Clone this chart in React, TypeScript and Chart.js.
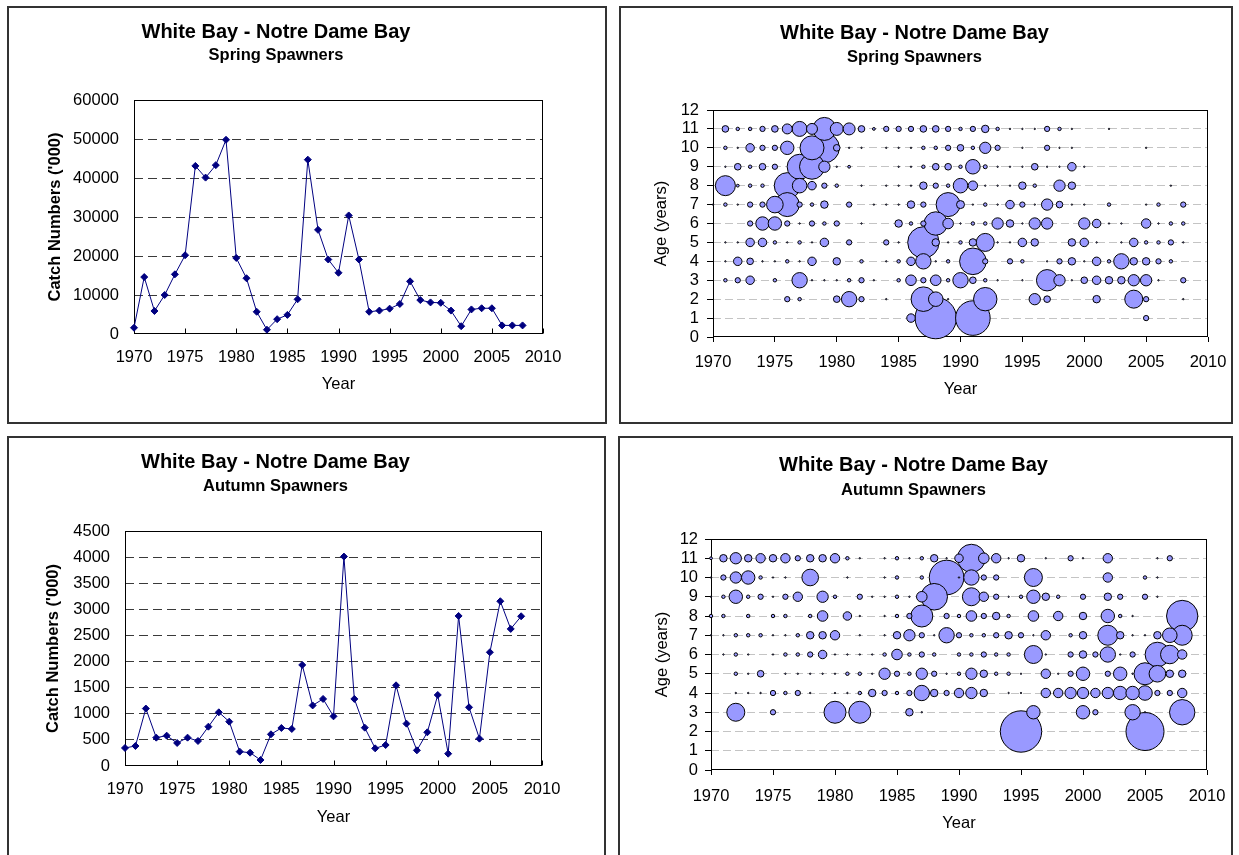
import React, { useEffect, useRef } from "react";
import { Chart, registerables } from "chart.js";

Chart.register(...registerables);
Chart.defaults.font.family = "'Liberation Sans', Arial, sans-serif";
Chart.defaults.color = "#000";

// ---------------- DATA ----------------
const TITLE = "White Bay - Notre Dame Bay";
const SUB_SPRING = "Spring Spawners";
const SUB_AUTUMN = "Autumn Spawners";
const Y_TITLE_LINE = "Catch Numbers ('000)";
const Y_TITLE_BUBBLE = "Age (years)";
const X_TITLE = "Year";

const YEARS = [
  1970, 1971, 1972, 1973, 1974, 1975, 1976, 1977, 1978, 1979,
  1980, 1981, 1982, 1983, 1984, 1985, 1986, 1987, 1988, 1989,
  1990, 1991, 1992, 1993, 1994, 1995, 1996, 1997, 1998, 1999,
  2000, 2001, 2002, 2003, 2004, 2005, 2006, 2007, 2008,
];

// catch numbers ('000)
const SPRING_CATCH = [
  1600, 14600, 5900, 10000, 15300, 20200, 43100, 40100, 43300, 49800,
  19500, 14300, 5700, 1100, 3800, 4900, 8900, 44700, 26700, 19100,
  15700, 30400, 19100, 5700, 6000, 6500, 7700, 13500, 8700, 8100,
  8000, 6000, 2000, 6300, 6600, 6600, 2200, 2200, 2200,
];
const AUTUMN_CATCH = [
  345, 383, 1100, 543, 581, 441, 543, 479, 753, 1028,
  849, 275, 255, 115, 607, 728, 709, 1935, 1160, 1284,
  951, 4010, 1284, 734, 338, 402, 1545, 811, 300, 645,
  1360, 236, 2873, 1124, 524, 2178, 3155, 2625, 2867,
];

// ages for the rows of the catch-at-age tables below
const AGES = [11, 10, 9, 8, 7, 6, 5, 4, 3, 2, 1];

// relative catch-at-age (bubble area units), rows = AGES, columns = YEARS
const SPRING_CAA = [
  [0,11,3,3,7,11,25,56,30,132, 42,36,11,2,7,7,7,11,11,7, 3,7,14,3,.5,.5,.5,7,3,.5, 0,0,.5,0,0,0,0,0,0],
  [0,3,.5,18,7,7,45,0,144,225, 11,.5,.5,0,.5,.5,.5,3,3,7, 11,3,32,7,0,.5,0,7,.5,.5, 0,0,0,0,0,.5,0,0,0],
  [0,.5,11,3,11,7,0,156,156,32, .5,2,0,0,0,.5,.5,3,11,11, 3,53,4,.5,.5,.5,11,.5,.5,18, .5,0,0,0,0,0,0,0,0],
  [0,100,2,3,3,0,169,53,18,7, 3,0,.5,0,.5,.5,.5,14,7,3, 53,22,.5,.5,.5,14,3,0,32,14, 0,0,0,0,0,0,0,.5,0],
  [.5,3,.5,7,7,69,144,7,3,14, 0,7,0,.5,.5,.5,14,7,0,144, 16,.5,3,.5,18,7,.5,32,11,.5, .5,0,3,0,0,.5,3,0,7],
  [0,0,0,7,45,45,7,.5,7,3, 7,0,.5,0,0,14,3,7,137,28, .5,3,3,32,14,.5,32,32,0,0, 32,18,.5,.5,0,22,.5,3,3],
  [0,.5,.5,18,18,3,.5,3,.5,18, 0,7,0,0,7,.5,0,246,14,.5, 3,14,81,.5,.5,18,14,0,0,14, 18,.5,0,.5,18,3,3,7,.5],
  [0,.5,18,11,.5,.5,3,.5,18,0, 14,0,3,0,.5,3,18,59,.5,3, 0,177,7,0,7,3,0,.5,7,14, .5,18,3,59,14,14,7,3,0],
  [0,3,7,18,0,3,0,59,.5,.5, .5,3,7,.5,0,3,28,7,28,3, 59,11,3,.5,0,.5,0,114,32,.5, 11,18,14,14,32,32,.5,0,7],
  [0,0,0,0,0,0,7,3,0,0, 11,59,7,0,.5,0,0,151,53,.5, 0,0,137,0,0,0,32,11,0,0, 0,14,0,0,81,7,0,0,.5],
  [0,0,0,0,0,0,0,0,0,0, 0,0,0,0,0,0,18,0,428,0, 0,299,0,0,0,0,0,0,0,0, 0,0,0,0,0,7,0,0,0],
];

const AUTUMN_CAA = [
  [2,14,32,14,22,14,22,7,14,14, 22,3,.5,0,.5,3,.5,3,14,.5, 18,196,28,22,.5,14,0,.5,0,7, .5,0,22,0,0,0,.5,7,0],
  [.5,7,32,45,3,.5,.5,0,69,0, 0,.5,0,0,.5,3,0,3,0,299, .5,59,7,7,0,0,81,0,0,0, 0,0,22,0,0,3,.5,0,0],
  [.5,3,45,3,7,.5,7,22,0,32, 3,0,7,.5,.5,3,.5,28,177,0, 0,81,22,7,.5,3,45,14,3,0, 7,0,14,7,0,7,.5,0,0],
  [3,3,0,3,0,3,3,0,3,28, 0,18,.5,0,.5,3,7,121,0,7, 3,28,7,14,3,0,28,0,22,0, 14,0,45,3,.5,0,0,0,246],
  [.5,.5,3,3,3,.5,.5,3,14,14, 22,0,.5,0,.5,14,32,7,.5,59, 7,3,3,7,14,7,.5,22,0,3, 14,0,100,14,.5,.5,14,53,100],
  [0,.5,3,.5,0,.5,3,3,7,18, .5,.5,.5,.5,3,28,3,7,3,0, 3,3,7,3,3,0,81,.5,0,7, 14,7,59,.5,7,0,151,86,22],
  [0,0,3,.5,11,0,.5,.5,.5,.5, .5,3,3,.5,32,7,3,32,7,.5, 3,32,14,3,3,.5,0,22,.5,7, 45,0,7,45,.5,121,69,14,14],
  [0,0,.5,.5,.5,7,3,7,.5,0, .5,.5,3,14,7,3,7,59,14,7, 22,32,14,0,.5,.5,0,22,22,32, 32,22,32,45,45,53,7,7,22],
  [0,0,81,0,0,7,0,0,0,0, 121,0,121,0,0,0,14,.5,0,0, 0,0,0,0,0,0,45,0,0,0, 45,7,0,0,59,.5,0,0,161],
  [0,0,0,0,0,0,0,0,0,0, 0,0,0,0,0,0,0,0,0,0, 0,0,0,0,0,428,0,0,0,0, 0,0,0,0,0,361,0,0,0],
  [0,0,0,0,0,0,0,0,0,0, 0,0,0,0,0,0,0,0,0,0, 0,0,0,0,0,0,0,0,0,0, 0,0,0,0,0,0,0,0,0],
];

// ---------------- STYLE ----------------
const TITLE_SIZE = 20;
const SUB_SIZE = 16.5;
const TICK_SIZE = 16.5;
const AXIS_TITLE_SIZE = 16.5;
const LH = 1.2;
const LINE_COLOR = "#000080";
const BUBBLE_FILL = "#9999FF";

const framePlugin = {
  id: "frame",
  beforeDatasetsDraw(chart: any, _args: any, opts: any) {
    const { ctx, chartArea: a } = chart;
    ctx.save();
    ctx.strokeStyle = "#000";
    ctx.lineWidth = 1;
    const l = Math.round(a.left) + 0.5;
    const t = Math.round(a.top) + 0.5;
    const r = Math.round(a.right) - 0.5;
    const b = Math.round(a.bottom) - 0.5;
    ctx.strokeRect(l, t, r - l, b - t);
    if (opts && opts.innerTicks) {
      const xs = chart.scales.x;
      for (const tk of xs.ticks) {
        const px = Math.round(xs.getPixelForValue(tk.value)) + 0.5;
        ctx.beginPath();
        ctx.moveTo(px, b);
        ctx.lineTo(px, b - 5);
        ctx.stroke();
      }
    }
    ctx.restore();
  },
};

type Area = { l: number; r: number; t: number; b: number };
type Spec = {
  cw: number;
  ch: number;
  area: Area;
  titleY: number;
  subY: number;
  subtitle: string;
  yTitleX: number;
  yTickLen: number;
  yTickPad: number;
  xTickLen: number;
  xLabelY: number;
  xTitleY: number;
};

function titlePlugins(s: Spec) {
  const tlh = TITLE_SIZE * LH;
  const slh = SUB_SIZE * LH;
  const titleBoxH = s.titleY + tlh / 2;
  return {
    legend: { display: false },
    tooltip: { enabled: false },
    title: {
      display: true,
      text: TITLE,
      color: "#000",
      font: { size: TITLE_SIZE, weight: "bold" as const, lineHeight: LH },
      padding: { top: s.titleY - tlh / 2, bottom: 0 },
    },
    subtitle: {
      display: true,
      text: s.subtitle,
      color: "#000",
      font: { size: SUB_SIZE, weight: "bold" as const, lineHeight: LH },
      padding: {
        top: s.subY - titleBoxH - slh / 2,
        bottom: s.area.t - s.subY - slh / 2,
      },
    },
  };
}

function xScale(s: Spec, inside: boolean) {
  return {
    type: "linear" as const,
    min: 1970,
    max: 2010,
    afterFit: (sc: any) => {
      sc.height = s.ch - s.area.b;
      sc.paddingLeft = 0;
      sc.paddingRight = 0;
    },
    ticks: {
      stepSize: 5,
      autoSkip: false,
      padding: s.xLabelY - s.area.b - s.xTickLen - (TICK_SIZE * LH) / 2,
      font: { size: TICK_SIZE, lineHeight: LH },
      color: "#000",
      maxRotation: 0,
      callback: (v: any) => String(v),
    },
    grid: inside
      ? { display: false, drawTicks: false }
      : {
          display: true,
          drawOnChartArea: false,
          drawTicks: true,
          tickLength: s.xTickLen,
          tickColor: "#000",
          tickWidth: 1,
        },
    border: { display: false },
    title: {
      display: true,
      text: X_TITLE,
      color: "#000",
      font: { size: AXIS_TITLE_SIZE, lineHeight: LH },
      padding: { top: 0, bottom: s.ch - s.xTitleY - (AXIS_TITLE_SIZE * LH) / 2 },
    },
  };
}

function lineConfig(s: Spec, values: number[], yMax: number, yStep: number): any {
  return {
    type: "line",
    data: {
      datasets: [
        {
          data: YEARS.map((yr, i) => ({ x: yr, y: values[i] })),
          borderColor: LINE_COLOR,
          borderWidth: 1,
          backgroundColor: LINE_COLOR,
          pointStyle: "rectRot",
          pointRadius: 3.5,
          pointBackgroundColor: LINE_COLOR,
          pointBorderColor: LINE_COLOR,
          pointBorderWidth: 1,
          tension: 0,
          clip: false,
        },
      ],
    },
    options: {
      responsive: false,
      animation: false,
      events: [],
      layout: { padding: { left: 0, top: 0, bottom: 0, right: s.cw - s.area.r } },
      plugins: { ...titlePlugins(s), frame: { innerTicks: true } },
      scales: {
        x: xScale(s, true),
        y: {
          type: "linear",
          min: 0,
          max: yMax,
          afterFit: (sc: any) => {
            sc.width = s.area.l;
          },
          ticks: {
            stepSize: yStep,
            autoSkip: false,
            padding: s.yTickPad,
            font: { size: TICK_SIZE, lineHeight: LH },
            color: "#000",
            callback: (v: any) => String(v),
          },
          grid: {
            display: true,
            drawTicks: false,
            color: (c: any) =>
              c.tick && (c.tick.value === 0 || c.tick.value === yMax) ? "rgba(0,0,0,0)" : "#3a3a3a",
            lineWidth: 1,
          },
          border: { display: false, dash: [9, 5] },
          title: {
            display: true,
            text: Y_TITLE_LINE,
            color: "#000",
            font: { size: AXIS_TITLE_SIZE, weight: "bold", lineHeight: LH },
            padding: { top: s.yTitleX - (AXIS_TITLE_SIZE * LH) / 2, bottom: 0 },
          },
        },
      },
    },
    plugins: [framePlugin],
  };
}

function bubbleConfig(s: Spec, caa: number[][]): any {
  const pts: { x: number; y: number; r: number }[] = [];
  AGES.forEach((age, ri) => {
    YEARS.forEach((yr, ci) => {
      const v = caa[ri][ci];
      if (v > 0) pts.push({ x: yr, y: age, r: Math.sqrt(v) });
    });
  });
  pts.sort((a, b) => b.r - a.r);
  return {
    type: "bubble",
    data: {
      datasets: [
        {
          data: pts,
          backgroundColor: BUBBLE_FILL,
          borderColor: "#000",
          borderWidth: 1,
          clip: false,
        },
      ],
    },
    options: {
      responsive: false,
      animation: false,
      events: [],
      layout: { padding: { left: 0, top: 0, bottom: 0, right: s.cw - s.area.r } },
      plugins: { ...titlePlugins(s), frame: { innerTicks: false } },
      scales: {
        x: xScale(s, false),
        y: {
          type: "linear",
          min: 0,
          max: 12,
          afterFit: (sc: any) => {
            sc.width = s.area.l;
          },
          ticks: {
            stepSize: 1,
            autoSkip: false,
            padding: s.yTickPad,
            font: { size: TICK_SIZE, lineHeight: LH },
            color: "#000",
            callback: (v: any) => String(v),
          },
          grid: {
            display: true,
            drawTicks: true,
            tickLength: s.yTickLen,
            tickColor: "#000",
            tickWidth: 1,
            color: (c: any) =>
              c.tick && (c.tick.value === 0 || c.tick.value === 12) ? "rgba(0,0,0,0)" : "#c4c4c4",
            lineWidth: 1,
          },
          border: { display: false, dash: [8, 4] },
          title: {
            display: true,
            text: Y_TITLE_BUBBLE,
            color: "#000",
            font: { size: AXIS_TITLE_SIZE, lineHeight: LH },
            padding: { top: s.yTitleX - (AXIS_TITLE_SIZE * LH) / 2, bottom: 0 },
          },
        },
      },
    },
    plugins: [framePlugin],
  };
}

type Box = { left: number; top: number; w: number; h: number };

function ChartPanel({ box, make }: { box: Box; make: () => any }) {
  const ref = useRef<HTMLCanvasElement>(null);
  useEffect(() => {
    if (!ref.current) return;
    const chart = new Chart(ref.current, make());
    return () => chart.destroy();
  }, []);
  return (
    <div
      style={{
        position: "absolute",
        left: box.left,
        top: box.top,
        width: box.w,
        height: box.h,
        border: "2px solid #333",
        boxSizing: "border-box",
        background: "#fff",
      }}
    >
      <canvas ref={ref} width={box.w - 4} height={box.h - 4} style={{ display: "block" }} />
    </div>
  );
}

const BOX1: Box = { left: 7, top: 6, w: 600, h: 418 };
const BOX2: Box = { left: 619, top: 6, w: 614, h: 418 };
const BOX3: Box = { left: 7, top: 436, w: 599, h: 430 };
const BOX4: Box = { left: 618, top: 436, w: 615, h: 430 };

const SPEC1: Spec = {
  cw: 596, ch: 414, area: { l: 125, r: 534, t: 92, b: 326 },
  titleY: 24, subY: 47, subtitle: SUB_SPRING, yTitleX: 46,
  yTickLen: 0, yTickPad: 15, xTickLen: 0, xLabelY: 349, xTitleY: 376,
};
const SPEC2: Spec = {
  cw: 610, ch: 414, area: { l: 92, r: 587, t: 102, b: 329 },
  titleY: 25, subY: 49, subtitle: SUB_SPRING, yTitleX: 40,
  yTickLen: 6, yTickPad: 8, xTickLen: 5, xLabelY: 354, xTitleY: 381,
};
const SPEC3: Spec = {
  cw: 595, ch: 426, area: { l: 116, r: 533, t: 93, b: 328 },
  titleY: 24, subY: 48, subtitle: SUB_AUTUMN, yTitleX: 44,
  yTickLen: 0, yTickPad: 15, xTickLen: 0, xLabelY: 351, xTitleY: 379,
};
const SPEC4: Spec = {
  cw: 611, ch: 426, area: { l: 91, r: 587, t: 101, b: 332 },
  titleY: 27, subY: 52, subtitle: SUB_AUTUMN, yTitleX: 42,
  yTickLen: 6, yTickPad: 7, xTickLen: 5, xLabelY: 358, xTitleY: 385,
};

export default function App() {
  return (
    <div
      style={{
        position: "fixed",
        left: 0,
        top: 0,
        width: 1239,
        height: 855,
        overflow: "hidden",
        background: "#fff",
      }}
    >
      <ChartPanel box={BOX1} make={() => lineConfig(SPEC1, SPRING_CATCH, 60000, 10000)} />
      <ChartPanel box={BOX2} make={() => bubbleConfig(SPEC2, SPRING_CAA)} />
      <ChartPanel box={BOX3} make={() => lineConfig(SPEC3, AUTUMN_CATCH, 4500, 500)} />
      <ChartPanel box={BOX4} make={() => bubbleConfig(SPEC4, AUTUMN_CAA)} />
    </div>
  );
}
